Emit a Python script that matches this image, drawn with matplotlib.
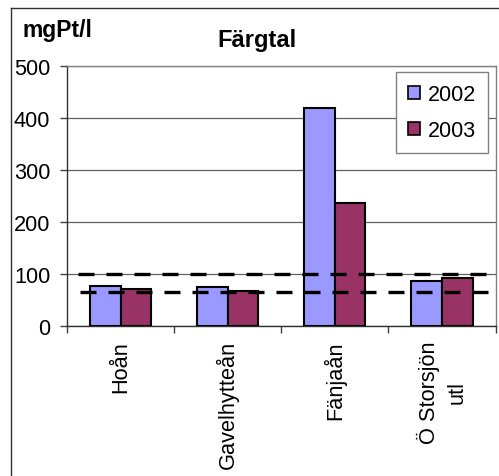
import matplotlib
matplotlib.use("Agg")
import matplotlib.pyplot as plt
import numpy as np
from matplotlib.lines import Line2D

plt.rcParams['font.family'] = ['Liberation Sans', 'DejaVu Sans']

# Data
categories = ["Hoån", "Gavelhytteån", "Fänjaån", "Ö Storsjön\nutl"]
years = ["2002", "2003"]
values_2002 = [77, 76, 420, 88]
values_2003 = [72, 68, 238, 92]
limit_lines = [100, 66]

colors = ["#9999FF", "#993366"]

fig = plt.figure(figsize=(4.99, 4.77), dpi=100)
ax = fig.add_axes([67 / 499, 1 - 327.3 / 477, 428.5 / 499, 260 / 477])

x = np.arange(len(categories))
width = 1 / 3.5
ax.bar(x - width / 2, values_2002, width, color=colors[0], edgecolor="black",
       linewidth=1.5, label=years[0], zorder=3)
ax.bar(x + width / 2, values_2003, width, color=colors[1], edgecolor="black",
       linewidth=1.5, label=years[1], zorder=3)

# Reference levels drawn as dashed lines on top of the bars
ax.plot([-0.40, 3.42], [limit_lines[0]] * 2, color="black", lw=2.4,
        dashes=(4.8, 3.6), zorder=4, dash_capstyle="butt")
ax.plot([-0.375, 3.44], [limit_lines[1]] * 2, color="black", lw=2.4,
        dashes=(4.8, 3.6), zorder=4, dash_capstyle="butt")

ax.set_xlim(-0.5, 3.5)
ax.set_ylim(0, 500)
ax.set_yticks([0, 100, 200, 300, 400, 500])
ax.set_xticks([-0.5, 0.5, 1.5, 2.5, 3.5])
ax.set_xticklabels([])
ax.set_xticks(x, minor=True)
ax.set_xticklabels(categories, minor=True, rotation=90, ha="center", va="top",
                   multialignment="center", linespacing=1.4, fontsize=15.7)
ax.tick_params(axis="x", which="minor", length=0, pad=10)
ax.tick_params(axis="x", which="major", length=5, width=1, color="#404040")
ax.tick_params(axis="y", length=5, width=1, color="#404040", pad=7, labelsize=15.7)

ax.yaxis.grid(True, color="#606060", lw=0.9, zorder=1)
ax.set_axisbelow(True)
for side in ["left", "bottom"]:
    ax.spines[side].set_color("#303030")
    ax.spines[side].set_linewidth(1)
for side in ["top", "right"]:
    ax.spines[side].set_color("#808080")
    ax.spines[side].set_linewidth(1)

leg = ax.legend(loc="upper right", bbox_to_anchor=(0.982, 0.978), fontsize=15.5,
                frameon=True, fancybox=False, framealpha=1, edgecolor="#808080",
                handlelength=0.55, handleheight=0.55, handletextpad=0.35,
                labelspacing=0.7, borderpad=0.55, borderaxespad=0)
leg.get_frame().set_linewidth(1)
for h in leg.legend_handles:
    h.set_linewidth(1.2)

fig.text(22 / 499, 1 - 36.7 / 477, "mgPt/l", fontsize=16.5, fontweight="bold",
         ha="left", va="baseline")
fig.text(256.5 / 499, 1 - 46.7 / 477, "Färgtal", fontsize=17, fontweight="bold",
         ha="center", va="baseline")

# Chart area border (left and top edges)
fig.add_artist(Line2D([11 / 499, 11 / 499], [0, 1 - 9 / 477], color="#303030",
                      lw=1, transform=fig.transFigure))
fig.add_artist(Line2D([11 / 499, 1], [1 - 9 / 477, 1 - 9 / 477], color="#303030",
                      lw=1, transform=fig.transFigure))

fig.savefig("out.png", dpi=100)
